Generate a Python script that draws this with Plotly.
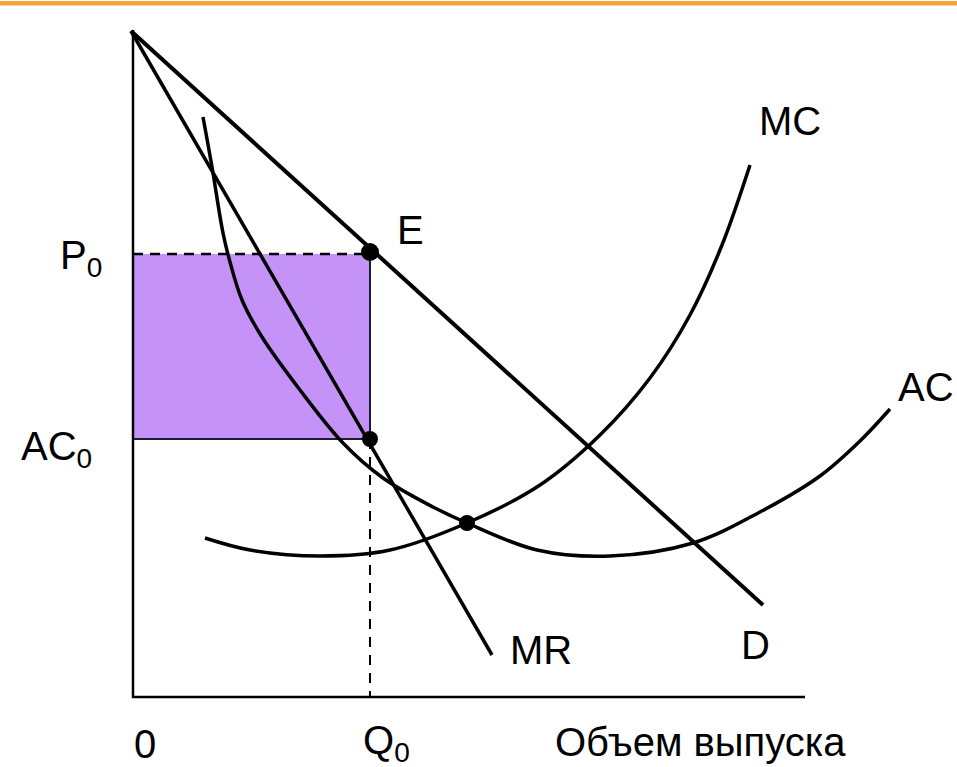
import plotly.graph_objects as go

# ---- data (quantity units, price units) ----
D_q = [-0.2, 63.0]
D_p = [66.6, 9.2]

MR_q = [-0.2, 35.9]
MR_p = [66.6, 4.2]

AC_q = [7.0, 7.9, 9.0, 9.7, 10.9, 12.9, 16.7, 21.0, 25.0, 30.0, 33.4, 40.4, 47.7, 56.0, 62.7, 68.7, 72.7, 75.7]
AC_p = [58.0, 53.0, 46.4, 43.5, 39.7, 36.0, 30.7, 25.4, 21.9, 19.0, 17.4, 14.7, 14.1, 15.4, 18.5, 22.1, 25.6, 28.8]

MC_q = [7.2, 11.7, 18.7, 25.7, 33.4, 40.7, 46.7, 51.7, 55.7, 58.9, 61.7]
MC_p = [15.9, 14.7, 14.1, 14.7, 17.4, 21.2, 26.2, 31.9, 38.2, 45.2, 53.2]

Q0 = 23.7
P0 = 44.3
AC0 = 25.8
E_p = 44.5
X_q = 33.4   # MC crosses AC
X_p = 17.4

Q_AXIS_END = 67.2
P_AXIS_END = 66.7

FONT = "Liberation Sans, Arial, sans-serif"
PURPLE = "#C592F8"

fig = go.Figure()

# profit rectangle
fig.add_shape(type="rect", x0=0, x1=Q0, y0=AC0, y1=P0, fillcolor=PURPLE,
              line=dict(width=0), layer="below")
# rect solid edges
fig.add_trace(go.Scatter(x=[0, Q0, Q0], y=[AC0, AC0, P0], mode="lines",
                         line=dict(color="#1c1c30", width=2), hoverinfo="skip"))
# dashed lines
fig.add_trace(go.Scatter(x=[0, Q0], y=[P0, P0], mode="lines",
                         line=dict(color="black", width=2.5, dash="10px,7px"), hoverinfo="skip"))
fig.add_trace(go.Scatter(x=[Q0, Q0], y=[AC0, 0], mode="lines",
                         line=dict(color="black", width=2, dash="10px,8px"), hoverinfo="skip"))

# axes
fig.add_trace(go.Scatter(x=[0, 0, Q_AXIS_END], y=[P_AXIS_END, 0, 0], mode="lines",
                         line=dict(color="black", width=2.5), hoverinfo="skip"))

# curves
fig.add_trace(go.Scatter(x=D_q, y=D_p, mode="lines", line=dict(color="black", width=4)))
fig.add_trace(go.Scatter(x=MR_q, y=MR_p, mode="lines", line=dict(color="black", width=3.5)))
fig.add_trace(go.Scatter(x=AC_q, y=AC_p, mode="lines",
                         line=dict(color="black", width=3.5, shape="spline", smoothing=1.0)))
fig.add_trace(go.Scatter(x=MC_q, y=MC_p, mode="lines",
                         line=dict(color="black", width=3.5, shape="spline", smoothing=1.0)))

# points
fig.add_trace(go.Scatter(x=[Q0, Q0, X_q], y=[E_p, AC0, X_p], mode="markers",
                         marker=dict(color="black", size=[18, 16, 16], opacity=1,
                                     line=dict(width=0))))

# labels
labels = [
    ("P<sub>0</sub>", -5.2, 43.9),
    ("AC<sub>0</sub>", -7.7, 24.8),
    ("E", 27.7, 46.7),
    ("MR", 40.8, 4.7),
    ("D", 62.2, 5.2),
    ("MC", 65.7, 57.6),
    ("AC", 79.3, 31.0),
    ("0", 1.2, -4.7),
    ("Q<sub>0</sub>", 25.3, -4.6),
    ("Объем выпуска", 56.7, -4.5),
]
for txt, x, y in labels:
    fig.add_annotation(x=x, y=y, text=txt, showarrow=False, xanchor="center", yanchor="middle",
                       font=dict(family=FONT, size=40, color="black"))

# orange top band
fig.add_shape(type="rect", xref="paper", yref="paper", x0=0, x1=1,
              y0=1 - 5.5 / 767, y1=1 - 1 / 767, fillcolor="#F2A43A", line=dict(width=0))

fig.update_layout(
    width=957, height=767,
    margin=dict(l=0, r=0, t=0, b=0),
    paper_bgcolor="white", plot_bgcolor="white",
    showlegend=False,
    xaxis=dict(range=[-13.3, 82.4], visible=False, fixedrange=True),
    yaxis=dict(range=[-7.0, 69.7], visible=False, fixedrange=True),
)

fig.write_html(
    "out.html",
    config={"displayModeBar": False},
    post_script="document.body.style.margin='0px';document.body.style.padding='0px';"
                "document.documentElement.style.overflow='hidden';",
)
